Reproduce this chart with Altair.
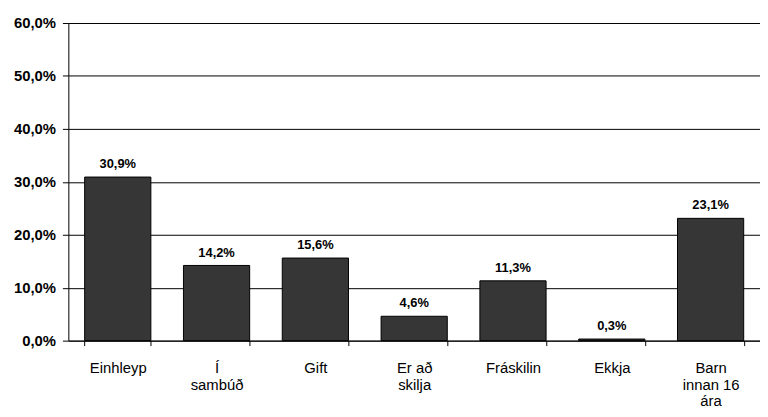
import altair as alt
import pandas as pd

categories = ["Einhleyp", "Í\nsambúð", "Gift", "Er að\nskilja", "Fráskilin", "Ekkja", "Barn\ninnan 16\nára"]
values = [30.9, 14.2, 15.6, 4.6, 11.3, 0.3, 23.1]
y_ticks = [0, 10, 20, 30, 40, 50, 60]

df = pd.DataFrame({"cat": categories, "val": values})

FONT = "Liberation Sans"

base = alt.Chart(df).encode(
    x=alt.X(
        "cat:N",
        sort=categories,
        scale=alt.Scale(paddingInner=0.33, paddingOuter=0.165),
        axis=alt.Axis(
            title=None,
            labelAngle=0,
            labelExpr="split(datum.label, '\\n')",
            tickBand="extent",
            tickSize=5,
            labelPadding=15,
            labelFontSize=15,
            labelFont=FONT,
            labelColor="black",
            labelLineHeight=17,
            domainColor="black",
            tickColor="black",
            grid=False,
        ),
    ),
)

yenc = alt.Y(
    "val:Q",
    scale=alt.Scale(domain=[0, 60], nice=False),
    axis=alt.Axis(
        title=None,
        values=y_ticks,
        labelExpr="replace(format(datum.value, '.1f'), '.', ',') + '%'",
        labelFont=FONT,
        labelFontSize=15,
        labelFontWeight="bold",
        labelColor="black",
        labelPadding=7,
        tickSize=6,
        tickColor="black",
        domainColor="black",
        gridColor="black",
        gridOpacity=1,
        gridWidth=1,
    ),
)

bars = base.mark_bar(color="#363636", stroke="black", strokeWidth=1).encode(y=yenc)

labels = base.transform_calculate(
    txt="replace(format(datum.val, '.1f'), '.', ',') + '%'"
).mark_text(
    baseline="bottom", dy=-6, fontWeight="bold", fontSize=13, font=FONT, color="black"
).encode(y="val:Q", text="txt:N")

chart = (bars + labels).properties(
    width=699,
    height=321,
    padding={"left": 61, "top": 13, "right": 0, "bottom": 74},
    autosize=alt.AutoSizeParams(type="none"),
).configure_view(stroke=None)

chart.save("out.html", embed_options={"renderer": "svg", "actions": False})
